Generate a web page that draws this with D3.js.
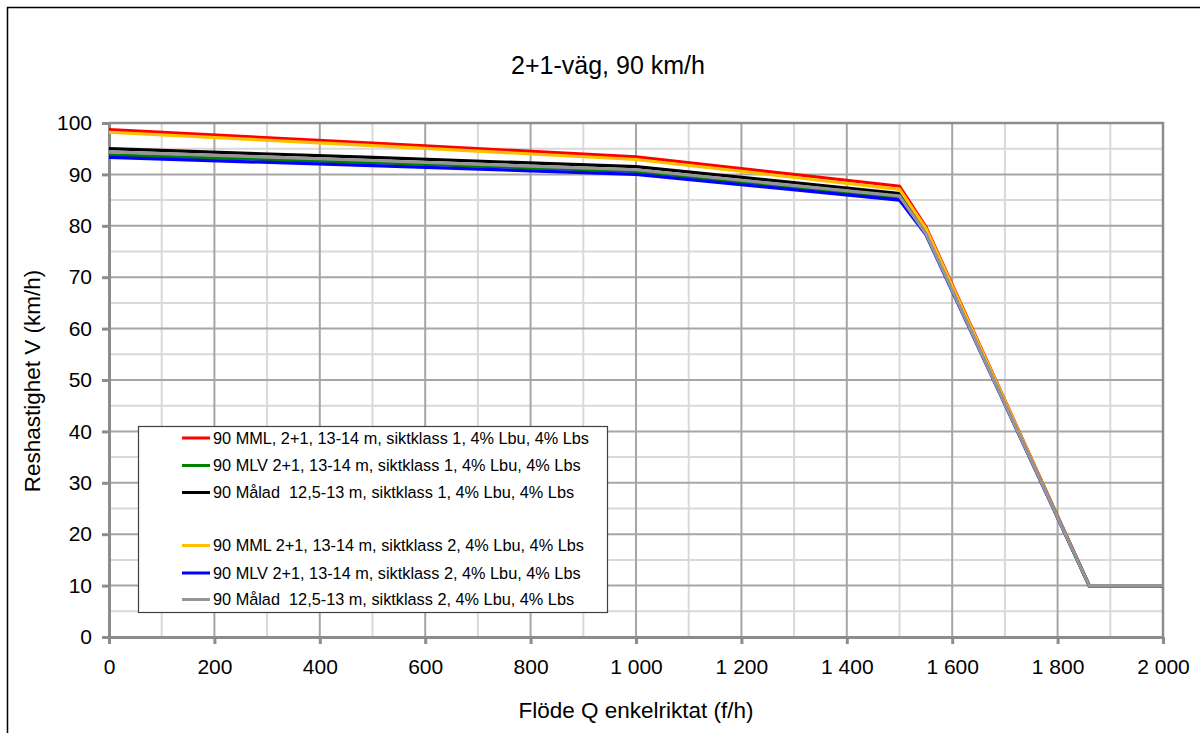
<!DOCTYPE html>
<html><head><meta charset="utf-8">
<script src="https://cdn.jsdelivr.net/npm/d3@7"></script>
<style>body{margin:0;background:#fff;}svg{display:block;font-family:"Liberation Sans",Arial,sans-serif;} text{white-space:pre;}</style>
</head><body>
<svg id="c" width="1200" height="733"></svg>
<script>
const flow = [0, 500, 1000, 1500, 1550, 1860, 2000];
const seriesNames = [
  "90 MML, 2+1, 13-14 m, siktklass 1, 4% Lbu, 4% Lbs",
  "90 MLV 2+1, 13-14 m, siktklass 1, 4% Lbu, 4% Lbs",
  "90 Målad  12,5-13 m, siktklass 1, 4% Lbu, 4% Lbs",
  "90 MML 2+1, 13-14 m, siktklass 2, 4% Lbu, 4% Lbs",
  "90 MLV 2+1, 13-14 m, siktklass 2, 4% Lbu, 4% Lbs",
  "90 Målad  12,5-13 m, siktklass 2, 4% Lbu, 4% Lbs"
];
const seriesColors = ["#ff0000", "#008000", "#000000", "#ffc000", "#0000ff", "#969696"];
const mmlS1 = [98.7, 96.1, 93.4, 87.7, 79.8, 10, 10];
const mlvS1 = [93.8, 92.3, 90.6, 85.5, 78.6, 10, 10];
const maladS1 = [95.0, 93.3, 91.5, 86.3, 79.0, 10, 10];
const mmlS2 = [98.2, 95.6, 92.9, 87.1, 79.5, 10, 10];
const mlvS2 = [93.3, 91.7, 90.0, 85.0, 78.3, 10, 10];
const maladS2 = [94.4, 92.7, 90.9, 85.8, 78.5, 10, 10];
const seriesValues = [mmlS1, mlvS1, maladS1, mmlS2, mlvS2, maladS2];
const xTicks = [0, 200, 400, 600, 800, 1000, 1200, 1400, 1600, 1800, 2000];
const yTicks = [0, 10, 20, 30, 40, 50, 60, 70, 80, 90, 100];
const title = "2+1-väg, 90 km/h";
const xTitle = "Flöde Q enkelriktat (f/h)";
const yTitle = "Reshastighet V (km/h)";

const svg = d3.select("#c");
const L = 109, R = 1163, T = 123, B = 637;
const x = d3.scaleLinear().domain([0, 2000]).range([L, R]);
const y = d3.scaleLinear().domain([0, 100]).range([B, T]);

// outer border
svg.append("rect").attr("x", 7.5).attr("y", 7.5).attr("width", 1200).attr("height", 740)
  .attr("fill", "none").attr("stroke", "#000").attr("stroke-width", 1.5);

// minor grid
const g = svg.append("g");
d3.range(100, 2000, 200).forEach(v => g.append("line").attr("x1", x(v)).attr("x2", x(v)).attr("y1", T).attr("y2", B).attr("stroke", "#d9d9d9").attr("stroke-width", 2));
d3.range(5, 100, 10).forEach(v => g.append("line").attr("x1", L).attr("x2", R).attr("y1", y(v)).attr("y2", y(v)).attr("stroke", "#d9d9d9").attr("stroke-width", 2));
// major grid
xTicks.slice(1, -1).forEach(v => g.append("line").attr("x1", x(v)).attr("x2", x(v)).attr("y1", T).attr("y2", B).attr("stroke", "#a6a6a6").attr("stroke-width", 2));
yTicks.slice(1, -1).forEach(v => g.append("line").attr("x1", L).attr("x2", R).attr("y1", y(v)).attr("y2", y(v)).attr("stroke", "#a6a6a6").attr("stroke-width", 2));
// plot frame top/right
svg.append("path").attr("d", `M${L},${T}H${R}V${B}`).attr("fill", "none").attr("stroke", "#8c8c8c").attr("stroke-width", 2.5);

// axes
const fmt = d => d >= 1000 ? d3.format(",")(d).replace(",", " ") : String(d);
const xa = svg.append("g").attr("transform", `translate(0,${B})`)
  .call(d3.axisBottom(x).tickValues(xTicks).tickSize(7).tickSizeOuter(0).tickPadding(11).tickFormat(fmt));
const ya = svg.append("g").attr("transform", `translate(${L},0)`)
  .call(d3.axisLeft(y).tickValues(yTicks).tickSize(7).tickSizeOuter(0).tickPadding(10));
[xa, ya].forEach(a => {
  a.select(".domain").attr("stroke", "#8c8c8c").attr("stroke-width", 3);
  a.selectAll(".tick line").attr("stroke", "#8c8c8c").attr("stroke-width", 3);
  a.selectAll("text").attr("font-size", 21).attr("fill", "#000").attr("font-family", "Liberation Sans, Arial, sans-serif");
});
xa.selectAll("text").attr("dy", "0.9em");

// lines
const line = d3.line().x((d, i) => x(flow[i])).y(d => y(d));
seriesValues.forEach((vals, k) => {
  svg.append("path").datum(vals).attr("d", line).attr("fill", "none")
    .attr("stroke", seriesColors[k]).attr("stroke-width", 3.2).attr("stroke-linejoin", "miter");
});

// titles
svg.append("text").attr("x", 608).attr("y", 74).attr("text-anchor", "middle").attr("font-size", 25).text(title);
svg.append("text").attr("x", 636).attr("y", 718).attr("text-anchor", "middle").attr("font-size", 22.5).text(xTitle);
svg.append("text").attr("transform", "translate(40,381) rotate(-90)").attr("text-anchor", "middle").attr("font-size", 22.5).text(yTitle);

// legend
const lg = svg.append("g");
lg.append("rect").attr("x", 138.5).attr("y", 426.5).attr("width", 469).attr("height", 186)
  .attr("fill", "#fff").attr("stroke", "#404040").attr("stroke-width", 1.2);
const rows = [438, 465.5, 492.5, 545.5, 573, 599.5];
seriesNames.forEach((n, k) => {
  lg.append("line").attr("x1", 182).attr("x2", 210).attr("y1", rows[k]).attr("y2", rows[k])
    .attr("stroke", seriesColors[k]).attr("stroke-width", 3);
  lg.append("text").attr("x", 213).attr("y", rows[k]).attr("dy", "0.36em").attr("font-size", 16.3).text(n);
});
</script>
</body></html>
